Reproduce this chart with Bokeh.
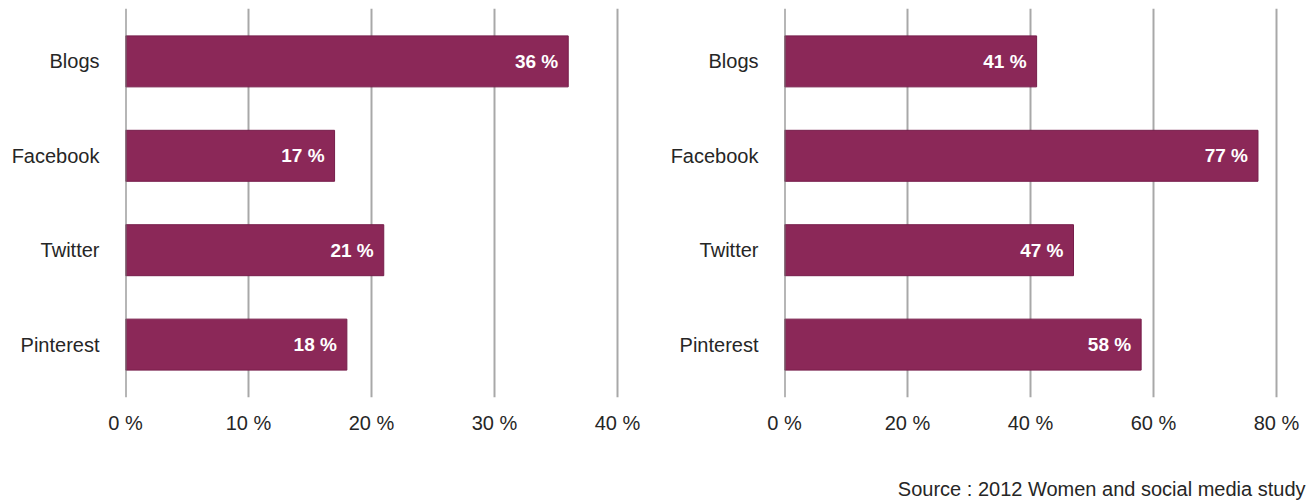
from bokeh.plotting import figure
from bokeh.layouts import row, column
from bokeh.models import FactorRange, Range1d, Span, FixedTicker, ColumnDataSource, Title
from bokeh.core.properties import value
from bokeh.embed import file_html
from bokeh.resources import INLINE

categories = ["Blogs", "Facebook", "Twitter", "Pinterest"]
left_values = [36, 17, 21, 18]
right_values = [41, 77, 47, 58]
left_ticks = [0, 10, 20, 30, 40]
right_ticks = [0, 20, 40, 60, 80]
source_text = "Source : 2012 Women and social media study"

BAR = "#8B2858"
EDGE = "#761d4a"
TXT = "#262626"
GRID = "#a8a8a8"
FONT = "Liberation Sans"


def panel(values, ticks, xmax, left_border, right_border):
    f = figure(width=657, height=470, output_backend="svg", toolbar_location=None,
               y_range=FactorRange(*reversed(categories), range_padding=0.06,
                                   range_padding_units="absolute"),
               x_range=Range1d(0, xmax),
               min_border_left=left_border, min_border_right=right_border,
               min_border_top=8, min_border_bottom=73)
    f.outline_line_color = None
    f.background_fill_color = "white"
    f.border_fill_color = "white"
    src = ColumnDataSource(dict(cat=categories, val=values,
                                lab=[f"{v} %" for v in values]))
    f.hbar(y="cat", right="val", left=0, height=0.54, source=src,
           fill_color=BAR, line_color=EDGE, line_width=1)
    f.text(x="val", y="cat", text="lab", source=src, x_offset=-10,
           text_align="right", text_baseline="middle", text_color="white",
           text_font=value(FONT), text_font_size="19px", text_font_style="bold")
    f.add_layout(Span(location=0, dimension="height", line_color="#6e6e6e",
                      line_width=2))
    # x axis
    xa = f.xaxis[0]
    xa.ticker = FixedTicker(ticks=ticks)
    xa.major_label_overrides = {t: f"{t} %" for t in ticks}
    xa.axis_line_color = None
    xa.major_tick_line_color = None
    xa.minor_tick_line_color = None
    xa.major_label_standoff = 8
    xa.major_label_text_font = FONT
    xa.major_label_text_font_size = "20px"
    xa.major_label_text_color = TXT
    # y axis
    ya = f.yaxis[0]
    ya.axis_line_color = None
    ya.major_tick_line_color = None
    ya.minor_tick_line_color = None
    ya.major_label_standoff = 20
    ya.major_label_text_font = FONT
    ya.major_label_text_font_size = "20px"
    ya.major_label_text_color = TXT
    f.ygrid.grid_line_color = None
    f.xgrid.ticker = FixedTicker(ticks=ticks[1:])
    f.xgrid.grid_line_color = GRID
    f.xgrid.grid_line_width = 2
    return f


f1 = panel(left_values, left_ticks, 40.25, 125, 37)
f2 = panel(right_values, right_ticks, 80.5, 127, 35)

f3 = figure(width=1314, height=34, output_backend="svg", toolbar_location=None,
            x_range=Range1d(0, 1), y_range=Range1d(0, 1),
            x_axis_location=None, y_axis_location=None,
            min_border_left=0, min_border_right=9, min_border_top=0, min_border_bottom=0)
f3.outline_line_color = None
f3.grid.grid_line_color = None
f3.add_layout(Title(text=source_text, align="right", text_font=FONT,
                    text_font_size="20px", text_font_style="normal",
                    text_color=TXT), "above")

p = column(row(f1, f2), f3)
open("out.html", "w").write(file_html(p, INLINE))
